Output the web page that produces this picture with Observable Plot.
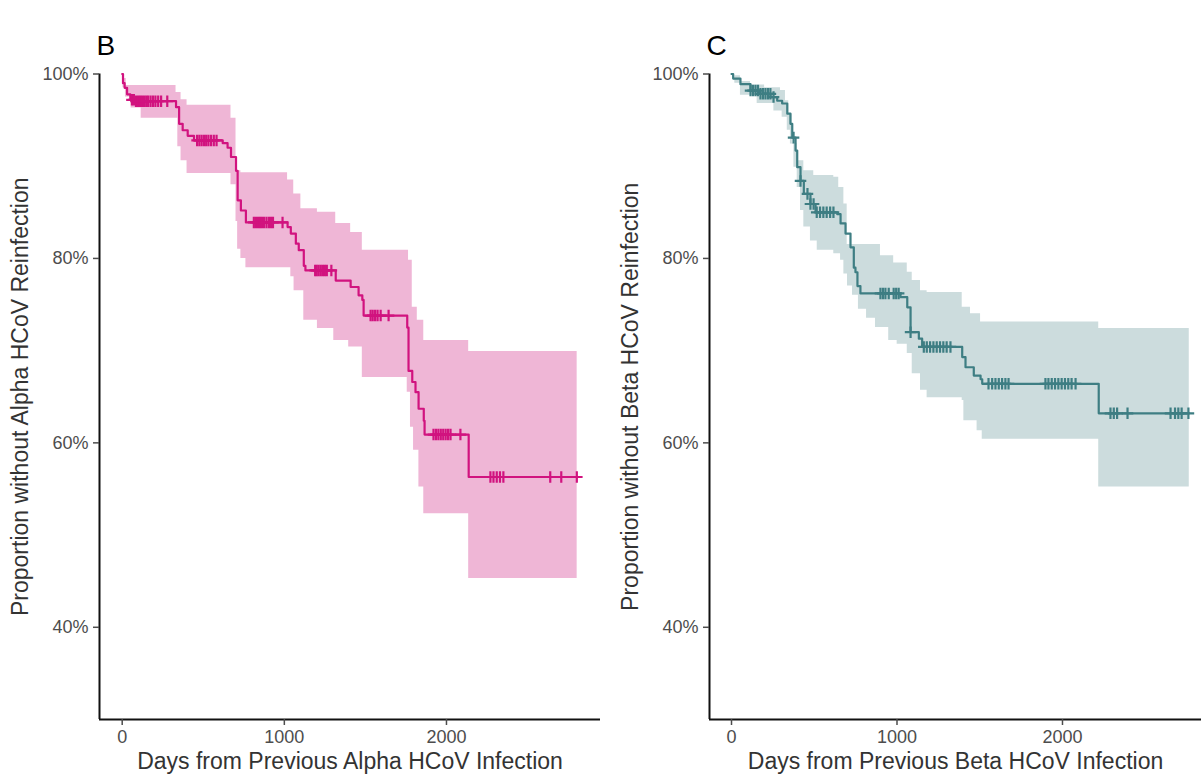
<!DOCTYPE html>
<html><head><meta charset="utf-8">
<script src="https://cdn.jsdelivr.net/npm/d3@7"></script>
<script src="https://cdn.jsdelivr.net/npm/@observablehq/plot@0.6"></script>
<style>
html,body{margin:0;padding:0;background:#fff;width:1201px;height:776px;overflow:hidden;}
#wrap{position:relative;width:1201px;height:776px;}
#wrap > svg{position:absolute;top:0;}
</style></head><body><div id="wrap"></div>
<script>
// ---------- shared axis values ----------
const yDomain = [0.3, 1.0];
const yTicks = [0.4, 0.6, 0.8, 1.0];
const xTicks = [0, 1000, 2000];

// ---------- Panel B: Alpha HCoV ----------
const alphaTime = [0, 5, 15, 30, 50, 75, 332, 351, 373, 404, 443, 620, 650, 671, 702, 712, 732, 763, 1020, 1040, 1071, 1089, 1120, 1130, 1317, 1409, 1458, 1481, 1489, 1758, 1766, 1789, 1809, 1828, 1860, 1865, 2137];
const alphaSurv = [1.0, 0.99, 0.985, 0.978, 0.972, 0.9705, 0.964, 0.946, 0.939, 0.933, 0.928, 0.925, 0.920, 0.910, 0.895, 0.863, 0.852, 0.839, 0.834, 0.827, 0.816, 0.809, 0.792, 0.787, 0.776, 0.769, 0.760, 0.755, 0.738, 0.725, 0.678, 0.666, 0.655, 0.637, 0.624, 0.609, 0.563];
const alphaUpTime = [0, 10, 25, 332, 363, 400, 671, 702, 732, 1020, 1058, 1102, 1204, 1317, 1409, 1481, 1766, 1789, 1820, 1860, 2137];
const alphaUpper = [1.0, 0.995, 0.9875, 0.980, 0.972, 0.966, 0.952, 0.895, 0.893, 0.885, 0.870, 0.854, 0.850, 0.838, 0.828, 0.809, 0.798, 0.747, 0.733, 0.711, 0.699];
const alphaLoTime = [0, 5, 20, 55, 117, 343, 363, 400, 671, 702, 712, 732, 763, 1040, 1060, 1120, 1204, 1305, 1397, 1481, 1758, 1778, 1797, 1830, 1860, 2137];
const alphaLower = [1.0, 0.985, 0.975, 0.963, 0.952, 0.921, 0.906, 0.892, 0.88, 0.84, 0.81, 0.80, 0.790, 0.780, 0.765, 0.733, 0.724, 0.711, 0.704, 0.671, 0.655, 0.617, 0.592, 0.552, 0.523, 0.453];
const alphaCensor = [60, 72, 85, 98, 110, 122, 135, 148, 160, 175, 190, 205, 222, 240, 278, 462, 476, 490, 505, 518, 532, 548, 565, 582, 812, 825, 838, 850, 862, 875, 890, 905, 918, 930, 989, 1190, 1200, 1212, 1225, 1238, 1250, 1262, 1290, 1532, 1545, 1560, 1575, 1594, 1643, 1920, 1935, 1950, 1965, 1980, 1995, 2010, 2025, 2086, 2271, 2290, 2310, 2330, 2351, 2640, 2708, 2804];
const alphaEnd = 2806;

// ---------- Panel C: Beta HCoV ----------
const betaTime = [0, 10, 54, 115, 165, 236, 276, 306, 337, 356, 367, 387, 397, 417, 437, 477, 508, 639, 659, 689, 719, 739, 749, 761, 779, 1021, 1062, 1082, 1132, 1152, 1394, 1414, 1464, 1505, 1515, 2219];
const betaSurv = [1.0, 0.995, 0.989, 0.982, 0.9785, 0.975, 0.971, 0.968, 0.957, 0.946, 0.931, 0.917, 0.899, 0.884, 0.870, 0.859, 0.850, 0.848, 0.838, 0.827, 0.812, 0.790, 0.785, 0.770, 0.762, 0.758, 0.747, 0.720, 0.713, 0.704, 0.693, 0.682, 0.673, 0.669, 0.664, 0.632];
const betaUpTime = [0, 20, 54, 115, 200, 296, 326, 346, 367, 397, 437, 497, 618, 648, 679, 699, 900, 980, 1062, 1092, 1142, 1182, 1394, 1444, 1505, 2219];
const betaUpper = [1.0, 0.998, 0.992, 0.988, 0.985, 0.982, 0.971, 0.957, 0.925, 0.906, 0.895, 0.890, 0.888, 0.877, 0.859, 0.815, 0.803, 0.795, 0.785, 0.776, 0.765, 0.763, 0.747, 0.740, 0.731, 0.724];
const betaLoTime = [0, 20, 54, 155, 256, 306, 337, 356, 377, 397, 417, 437, 477, 518, 618, 659, 679, 701, 731, 767, 816, 870, 950, 1001, 1062, 1092, 1142, 1182, 1394, 1404, 1484, 1515, 2219];
const betaLower = [1.0, 0.99, 0.977, 0.968, 0.96, 0.953, 0.939, 0.924, 0.899, 0.877, 0.852, 0.834, 0.819, 0.809, 0.805, 0.798, 0.783, 0.770, 0.760, 0.745, 0.735, 0.725, 0.711, 0.707, 0.697, 0.675, 0.657, 0.649, 0.646, 0.624, 0.613, 0.604, 0.552];
const betaCensor = [115, 130, 145, 160, 175, 190, 205, 220, 235, 254, 375, 417, 459, 477, 496, 515, 535, 555, 575, 596, 616, 900, 915, 930, 950, 980, 995, 1010, 1082, 1162, 1180, 1200, 1220, 1240, 1260, 1280, 1300, 1323, 1553, 1575, 1595, 1615, 1635, 1655, 1674, 1897, 1915, 1935, 1955, 1975, 1995, 2015, 2035, 2055, 2079, 2290, 2310, 2330, 2393, 2653, 2680, 2700, 2720, 2761];
const betaEnd = 2766;

// ---------- helpers ----------
function stepAt(ts, vs, t) {
  let v = vs[0];
  for (let i = 0; i < ts.length; i++) { if (ts[i] <= t) v = vs[i]; else break; }
  return v;
}
function curveRows(ts, vs, end) {
  const rows = ts.map((t, i) => ({t, v: vs[i]}));
  rows.push({t: end, v: vs[vs.length - 1]});
  return rows;
}
function bandRows(loT, lo, upT, up, end) {
  const times = Array.from(new Set([...loT, ...upT, end])).sort((a, b) => a - b);
  return times.map(t => ({t, lo: stepAt(loT, lo, t), up: stepAt(upT, up, t)}));
}
function censorRows(cs, ts, vs) {
  return cs.map(t => ({t, v: stepAt(ts, vs, t)}));
}

const FONT = "'Liberation Sans', Arial, Helvetica, sans-serif";

function panel(cfg) {
  const svg = Plot.plot({
    width: cfg.width, height: 776,
    marginLeft: 99, marginRight: 0, marginTop: 73.5, marginBottom: 57,
    x: {domain: cfg.xDomain},
    y: {domain: yDomain},
    style: {fontFamily: FONT, background: "transparent", overflow: "visible"},
    marks: [
      Plot.areaY(cfg.band, {x: "t", y1: "lo", y2: "up", curve: "step-after", fill: cfg.fill}),
      Plot.line(cfg.curve, {x: "t", y: "v", curve: "step-after", stroke: cfg.line, strokeWidth: 2.2}),
      Plot.dot(cfg.cens, {x: "t", y: "v", symbol: "plus", r: 3.8, stroke: cfg.line, strokeWidth: 2.2}),
      Plot.ruleX([cfg.xDomain[0]], {stroke: "#111", strokeWidth: 2}),
      Plot.ruleY([yDomain[0]], {stroke: "#111", strokeWidth: 2}),
      Plot.axisX({ticks: xTicks, tickSize: 6, tickPadding: 5, fontSize: 18, color: "#4d4d4d", label: null, strokeWidth: 1.5, tickFormat: d3.format("d")}),
      Plot.axisY({ticks: yTicks, tickSize: 6, tickPadding: 5, fontSize: 18, color: "#4d4d4d", label: null, tickFormat: d3.format(".0%"), strokeWidth: 1.5}),
      Plot.text([cfg.xTitle], {frameAnchor: "bottom", text: d => d, dy: 42, textAnchor: "middle", lineAnchor: "middle", fontSize: 23, fill: "#333"}),
      Plot.text([cfg.yTitle], {frameAnchor: "left", text: d => d, dx: -79, rotate: -90, textAnchor: "middle", lineAnchor: "middle", fontSize: 23, fill: "#333"}),
      Plot.text([cfg.letter], {frameAnchor: "top-left", text: d => d, dx: -3, dy: -28, textAnchor: "start", lineAnchor: "middle", fontSize: 28, fill: "#000"})
    ]
  });
  svg.style.left = cfg.left + "px";
  return svg;
}

const wrap = document.getElementById("wrap");
wrap.appendChild(panel({
  left: 0, width: 600, xDomain: [-140, 2950],
  band: bandRows(alphaLoTime, alphaLower, alphaUpTime, alphaUpper, alphaEnd),
  curve: curveRows(alphaTime, alphaSurv, alphaEnd),
  cens: censorRows(alphaCensor, alphaTime, alphaSurv),
  line: "#D1137F", fill: "#EFB6D6",
  xTitle: "Days from Previous Alpha HCoV Infection",
  yTitle: "Proportion without Alpha HCoV Reinfection",
  letter: "B"
}));
wrap.appendChild(panel({
  left: 610, width: 591, xDomain: [-133, 2840],
  band: bandRows(betaLoTime, betaLower, betaUpTime, betaUpper, betaEnd),
  curve: curveRows(betaTime, betaSurv, betaEnd),
  cens: censorRows(betaCensor, betaTime, betaSurv),
  line: "#3E7E83", fill: "#CCDCDD",
  xTitle: "Days from Previous Beta HCoV Infection",
  yTitle: "Proportion without Beta HCoV Reinfection",
  letter: "C"
}));
</script></body></html>
